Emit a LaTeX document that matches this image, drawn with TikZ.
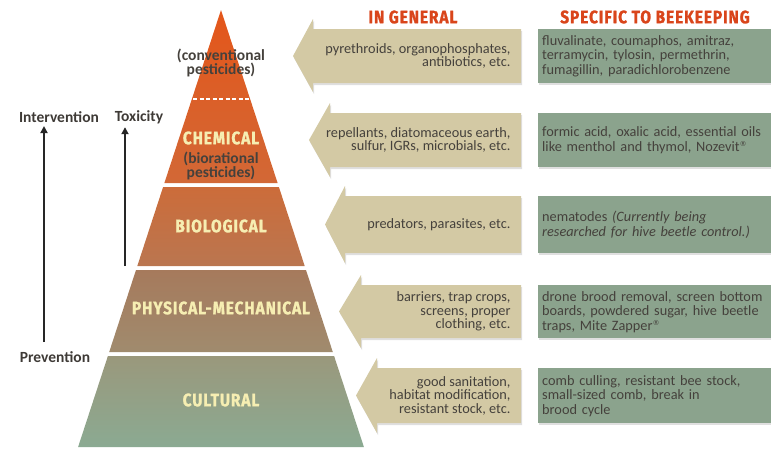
\documentclass[tikz,border=0pt]{standalone}
\usepackage{fontspec}
\setmainfont{Carlito}
\newfontfamily\capsfont[FakeStretch=0.86,LetterSpace=5,FakeBold=1.2]{Fira Sans Bold}
\newfontfamily\markfont{DejaVu Sans}
\newcommand{\regmark}{\raisebox{0.35em}{\markfont\fontsize{7}{7}\selectfont ®}}
\usetikzlibrary{arrows.meta,shadows}

\definecolor{capsred}{HTML}{D9451B}
\definecolor{cream}{HTML}{F6EEB2}
\definecolor{inktext}{HTML}{45413C}
\definecolor{genfill}{HTML}{D3C9A4}
\definecolor{specfill}{HTML}{8BA38D}

\tikzset{
  heading/.style={font=\capsfont\fontsize{18}{18}\selectfont, text=capsred},
  layername/.style={font=\capsfont\fontsize{18}{18}\selectfont, text=cream},
  layernote/.style={font=\bfseries\fontsize{15.5}{14.5}\selectfont, text=inktext, align=center},
  sidelabel/.style={font=\bfseries\fontsize{15.5}{15}\selectfont, text=inktext!90!black},
  uparrow/.style={line width=2.8pt, -{Triangle[length=7pt,width=7pt]}, black!85},
  genarrow/.style={fill=genfill, drop shadow={shadow xshift=1pt, shadow yshift=-2pt, opacity=0.25}},
  gentext/.style={font=\fontsize{14.3}{13.5}\selectfont, text=inktext, align=right, anchor=east},
  specbox/.style={fill=specfill, anchor=north west, minimum height=54pt, text width=225pt,
    inner xsep=4pt, font=\fontsize{14.3}{14.5}\selectfont, text=inktext, align=left,
    drop shadow={shadow xshift=1pt, shadow yshift=-2pt, opacity=0.25}},
}

\begin{document}
\begin{tikzpicture}[x=1pt,y=-1pt]
\useasboundingbox (0,0) rectangle (771,450);

% pyramid
\shade[top color={rgb,255:red,228;green,86;blue,26}, bottom color={rgb,255:red,210;green,104;blue,54}] (221,10) -- (277.6,183) -- (164.4,183) -- cycle;
\shade[top color={rgb,255:red,204;green,108;blue,58}, bottom color={rgb,255:red,186;green,118;blue,80}] (163.1,187) -- (278.9,187) -- (304.7,266) -- (137.3,266) -- cycle;
\shade[top color={rgb,255:red,166;green,122;blue,92}, bottom color={rgb,255:red,160;green,139;blue,110}] (136,270) -- (306,270) -- (332.8,352) -- (109.2,352) -- cycle;
\shade[top color={rgb,255:red,154;green,152;blue,124}, bottom color={rgb,255:red,139;green,170;blue,146}] (107.9,356) -- (334.1,356) -- (363.9,447) -- (78.1,447) -- cycle;
\draw[white, line width=2pt, dash pattern=on 4pt off 2.5pt] (193,99) -- (250,99);

\node (conventional) [layernote] at (221,63) {(conventional\\pesticides)};
\node (chemical)     [layername] at (221,138) {CHEMICAL};
\node (biorational)  [layernote] at (221,166) {(biorational\\pesticides)};
\node (biological)   [layername] at (221,226) {BIOLOGICAL};
\node (physical)     [layername] at (221,308) {PHYSICAL-MECHANICAL};
\node (cultural)     [layername] at (221,400) {CULTURAL};

% left scale
\node (intervention) [sidelabel] at (59,117) {Intervention};
\node (toxicity)     [sidelabel] at (139,117) {Toxicity};
\node (prevention)   [sidelabel] at (55,357) {Prevention};
\coordinate (intfoot) at (44,342);
\coordinate (toxfoot) at (125,266);
\draw[uparrow] (intfoot) -- (intfoot |- intervention.south);
\draw[uparrow] (toxfoot) -- (toxfoot |- toxicity.south);

% headings
\node (general)  [heading] at (413,17) {IN GENERAL};
\node (specific) [heading] at (655,17) {SPECIFIC TO BEEKEEPING};

% in general
\fill[genarrow] (521,29) -- (313,29) -- (313,19) -- (293,56) -- (313,92) -- (313,83) -- (521,83) -- cycle;
\fill[genarrow] (521,113) -- (330,113) -- (330,103) -- (309,140) -- (330,177) -- (330,167) -- (521,167) -- cycle;
\fill[genarrow] (521,196) -- (345,196) -- (345,186) -- (325,224.5) -- (345,263) -- (345,253) -- (521,253) -- cycle;
\fill[genarrow] (521,285) -- (361,285) -- (361,275) -- (339,311.5) -- (361,348) -- (361,338) -- (521,338) -- cycle;
\fill[genarrow] (521,368) -- (377,368) -- (377,358) -- (356,395.5) -- (377,433) -- (377,423) -- (521,423) -- cycle;
\node (gen1) [gentext] at (514,56) {pyrethroids, organophosphates,\\antibiotics, etc.};
\node (gen2) [gentext] at (514,140) {repellants, diatomaceous earth,\\sulfur, IGRs, microbials, etc.};
\node (gen3) [gentext] at (514,224.5) {predators, parasites, etc.};
\node (gen4) [gentext] at (514,311.5) {barriers, trap crops,\\screens, proper\\clothing, etc.};
\node (gen5) [gentext] at (514,395.5) {good sanitation,\\habitat modification,\\resistant stock, etc.};

% specific to beekeeping
\node (spec1) [specbox] at (538,29) {fluvalinate, coumaphos, amitraz,\\terramycin, tylosin, permethrin,\\fumagillin, paradichlorobenzene};
\node (spec2) [specbox] at (538,113) {formic acid, oxalic acid, essential oils\\like menthol and thymol, Nozevit\regmark};
\node (spec3) [specbox, minimum height=57pt] at (538,196) {nematodes \textit{(Currently being\\researched for hive beetle control.)}};
\node (spec4) [specbox, minimum height=53pt] at (538,285) {drone brood removal, screen bottom\\boards, powdered sugar, hive beetle\\traps, Mite Zapper\regmark};
\node (spec5) [specbox, minimum height=55pt] at (538,368) {comb culling, resistant bee stock,\\small-sized comb, break in\\brood cycle};
\end{tikzpicture}
\end{document}
